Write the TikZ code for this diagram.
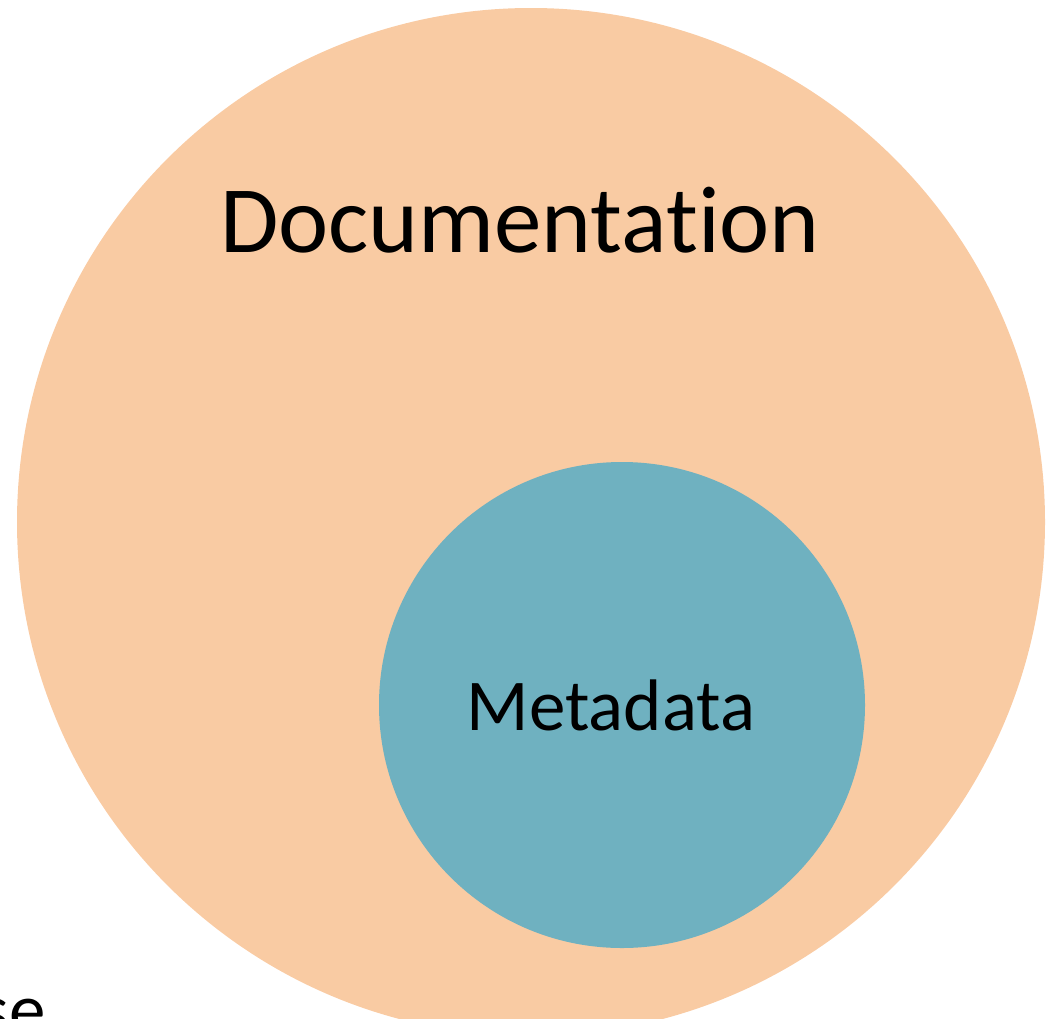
\documentclass[tikz,border=0pt]{standalone}
\usepackage{fontspec}
\setmainfont{Carlito}[Ligatures={NoCommon}]
\definecolor{docfill}{HTML}{F9CBA3}
\definecolor{metafill}{HTML}{6FB1C0}
\begin{document}
\begin{tikzpicture}[x=1pt,y=-1pt,
  bigtext/.style={font=\fontsize{95}{100}\selectfont, inner sep=0pt, anchor=base},
  midtext/.style={font=\fontsize{73}{80}\selectfont, inner sep=0pt, anchor=base}]
\useasboundingbox (0,0) rectangle (1055,1018);
\clip (0,0) rectangle (1055,1018);
\fill[docfill] (531,522) circle[radius=514];
\fill[metafill] (622,705) circle[radius=243];
\node[bigtext] (doc) at (520,252) {Documentation};
\node[midtext] (meta) at (611,730) {Metadata};
\node[midtext, anchor=base east] (frag) at (46,1034) {se};
\end{tikzpicture}
\end{document}
